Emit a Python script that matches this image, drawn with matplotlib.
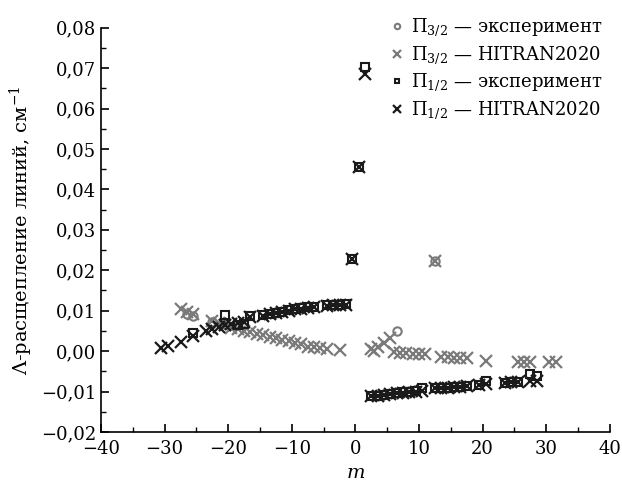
import matplotlib
matplotlib.use("Agg")
import matplotlib.pyplot as plt
from matplotlib.ticker import MultipleLocator, FuncFormatter

# ---- data ----
# Pi 3/2 experiment (gray circles)
m32_exp = [-26.5, -25.5, -22.5, -20.5, 6.5, 12.5]
v32_exp = [0.0093, 0.0088, 0.0073, 0.0068, 0.0050, 0.0224]

# Pi 3/2 HITRAN2020 (gray crosses)
m32_hit = [-27.5, -26.5, -25.5, -22.5, -21.5, -20.5, -19.5, -18.5, -17.5, -16.5,
           -15.5, -14.5, -13.5, -12.5, -11.5, -10.5, -9.5, -8.5, -7.5, -6.5,
           -5.5, -4.5, -2.5, 2.5, 3.0, 3.5, 4.5, 5.5, 6.0, 7.0, 8.0, 9.0, 10.0,
           11.0, 12.5, 13.5, 14.5, 15.5, 16.5, 17.5, 20.5, 25.5, 26.5, 27.5,
           30.5, 31.5]
v32_hit = [0.0103, 0.0097, 0.0091, 0.0075, 0.0070, 0.0064, 0.0058, 0.0055, 0.0051, 0.0047,
           0.0043, 0.0039, 0.0036, 0.0032, 0.0028, 0.0025, 0.0021, 0.0018, 0.0011, 0.0009,
           0.0007, 0.0005, 0.0002, 0.0006, 0.0000, 0.0010, 0.0019, 0.0033, -0.0003, -0.0004,
           -0.0005, -0.0006, -0.0007, -0.0008, 0.0223, -0.0014, -0.0015, -0.0016, -0.0017,
           -0.0018, -0.0024, -0.0027, -0.0028, -0.0028, -0.0028, -0.0028]

# Pi 1/2 experiment (black squares)
m12_exp = [-25.5, -20.5, -18.5, -17.5, -16.5, -14.5, -13.5, -12.5, -11.5, -10.5, -9.5,
           -8.5, -7.5, -6.5, -4.5, -3.5, -2.5, -1.5, -0.5, 0.5, 1.5,
           2.5, 3.5, 4.5, 5.5, 6.5, 7.5, 8.5, 9.5, 10.5, 12.5, 13.5, 14.5, 15.5,
           16.5, 17.5, 19.5, 20.5, 23.5, 24.5, 25.5, 27.5, 28.5]
v12_exp = [0.0045, 0.0090, 0.0065, 0.0066, 0.0087, 0.0089, 0.0092, 0.0095, 0.0098, 0.0101, 0.0104,
           0.0106, 0.0108, 0.0110, 0.0113, 0.0114, 0.0115, 0.0116, 0.0229, 0.0456, 0.0703,
           -0.0111, -0.0110, -0.0108, -0.0105, -0.0103, -0.0102, -0.0100, -0.0099, -0.0092,
           -0.0092, -0.0091, -0.0090, -0.0089, -0.0088, -0.0087, -0.0083, -0.0073,
           -0.0078, -0.0077, -0.0077, -0.0056, -0.0061]

# Pi 1/2 HITRAN2020 (black crosses)
m12_hit = [-30.5, -29.5, -27.5, -25.5, -23.5, -22.5, -21.5, -20.5, -19.5, -18.5, -17.5,
           -16.5, -14.5, -13.5, -12.5, -11.5, -10.5, -9.5, -8.5, -7.5, -6.5,
           -4.5, -3.5, -2.5, -1.5, -0.5, 0.5, 1.5,
           2.5, 3.5, 4.5, 5.5, 6.5, 7.5, 8.5, 9.5, 10.5, 12.5, 13.5, 14.5, 15.5,
           16.5, 17.5, 19.5, 20.5, 23.5, 24.5, 25.5, 27.5, 28.5]
v12_hit = [0.0008, 0.0012, 0.0023, 0.0038, 0.0050, 0.0055, 0.0060, 0.0064, 0.0067, 0.0070, 0.0073,
           0.0085, 0.0088, 0.0091, 0.0094, 0.0097, 0.0100, 0.0103, 0.0105, 0.0107, 0.0109,
           0.0112, 0.0113, 0.0114, 0.0115, 0.0228, 0.0455, 0.0685,
           -0.0112, -0.0110, -0.0108, -0.0106, -0.0104, -0.0103, -0.0101, -0.0100, -0.0098,
           -0.0092, -0.0091, -0.0090, -0.0089, -0.0088, -0.0087, -0.0083, -0.0081,
           -0.0078, -0.0077, -0.0077, -0.0073, -0.0075]

labels = [r"$\Pi_{3/2}$ — эксперимент", r"$\Pi_{3/2}$ — HITRAN2020",
          r"$\Pi_{1/2}$ — эксперимент", r"$\Pi_{1/2}$ — HITRAN2020"]

plt.rcParams['font.family'] = ['DejaVu Serif']
plt.rcParams['mathtext.fontset'] = 'dejavuserif'

gray = '#7a7a7a'
black = '#1a1a1a'

fig = plt.figure(figsize=(6.22, 4.94), dpi=100)
ax = fig.add_axes([0.1624, 0.1255, 0.818, 0.8185])

ax.plot(m32_exp, v32_exp, linestyle='none', marker='o', ms=6, mfc='none', mec=gray, mew=1.5,
        label=labels[0])
ax.plot(m32_hit, v32_hit, linestyle='none', marker='x', ms=9, mec=gray, mew=1.6,
        label=labels[1])
ax.plot(m12_exp, v12_exp, linestyle='none', marker='s', ms=5.5, mfc='none', mec=black, mew=1.5,
        label=labels[2])
ax.plot(m12_hit, v12_hit, linestyle='none', marker='x', ms=9, mec=black, mew=1.6,
        label=labels[3])

ax.set_xlim(-40, 40)
ax.set_ylim(-0.02, 0.08)
ax.xaxis.set_major_locator(MultipleLocator(10))
ax.xaxis.set_minor_locator(MultipleLocator(5))
ax.yaxis.set_major_locator(MultipleLocator(0.01))
ax.yaxis.set_minor_locator(MultipleLocator(0.005))

ax.xaxis.set_major_formatter(FuncFormatter(lambda v, p: f"{v:.0f}".replace('-', '−')))
ax.yaxis.set_major_formatter(FuncFormatter(
    lambda v, p: (f"{v:.2f}".replace('.', ',').replace('-', '−')) if abs(v) > 1e-9 else "0,00"))

for s in ['top', 'right']:
    ax.spines[s].set_visible(False)
for s in ['left', 'bottom']:
    ax.spines[s].set_linewidth(1.2)
ax.tick_params(which='major', direction='in', length=6, width=1.2, labelsize=13)
ax.tick_params(axis='x', which='major', pad=6)
ax.tick_params(which='minor', direction='in', length=3.5, width=1.0)

ax.set_xlabel("$m$", fontsize=14)
ax.set_ylabel("Λ-расщепление линий, см$^{-1}$", fontsize=14)

leg = ax.legend(loc='upper right', bbox_to_anchor=(1.0, 1.045), frameon=False, fontsize=13,
                markerscale=0.65, handlelength=0.8, handletextpad=0.4, labelspacing=0.33,
                borderaxespad=0)

fig.savefig("out.png", dpi=100)
